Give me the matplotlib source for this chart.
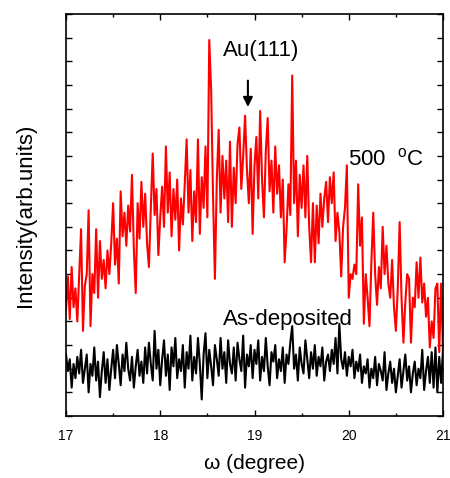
import numpy as np
import matplotlib
matplotlib.use("Agg")
import matplotlib.pyplot as plt
from matplotlib.ticker import MultipleLocator, NullFormatter

plt.rcParams['font.family'] = ['Liberation Sans', 'DejaVu Sans']
plt.rcParams['mathtext.fontset'] = 'custom'
plt.rcParams['mathtext.rm'] = 'Liberation Sans'

# omega (degree), step 0.02
omega_start = 17.0
omega_step = 0.02

red_500C = [
    4.5, 5.9, 4.1, 6.3, 4.6, 5.4, 4.0, 6.0, 7.9, 3.6,
    5.5, 6.0, 8.7, 3.8, 6.0, 5.2, 7.9, 5.0, 7.4, 5.8,
    6.6, 5.4, 7.0, 6.0, 7.3, 9.0, 6.4, 7.5, 5.6, 9.5,
    7.6, 8.6, 7.2, 8.9, 7.8, 10.2, 7.0, 5.2, 9.0, 7.5,
    9.9, 8.0, 9.4, 7.3, 6.3, 8.8, 11.1, 8.5, 9.6, 6.8,
    8.4, 9.7, 8.0, 11.4, 8.6, 10.3, 7.6, 9.6, 8.3, 10.0,
    7.0, 9.2, 8.1, 9.8, 11.7, 8.6, 10.4, 7.4, 9.5, 8.2,
    11.7, 7.7, 10.1, 8.8, 11.4, 8.4, 15.9, 13.8, 9.3, 5.8,
    10.0, 12.1, 8.6, 11.0, 9.2, 10.8, 8.2, 11.6, 8.0, 10.5,
    9.0, 11.5, 12.2, 9.6, 11.0, 12.7, 10.4, 9.0, 11.3, 7.7,
    10.6, 11.8, 9.2, 12.9, 10.0, 8.4, 11.2, 12.6, 9.5, 10.8,
    8.6, 11.4, 9.4, 10.6, 8.4, 10.0, 6.5, 7.9, 9.8, 8.5,
    14.4, 9.0, 10.8, 7.6, 10.2, 8.8, 10.6, 8.4, 11.0, 8.0,
    6.5, 9.0, 6.5, 8.9, 7.3, 9.4, 8.0, 9.2, 9.9, 8.2,
    10.1, 9.0, 10.3, 7.4, 8.6, 7.8, 5.9, 8.0, 8.8, 10.6,
    5.0, 6.0, 5.8, 6.4, 6.0, 9.8, 7.2, 8.4, 3.9, 6.0,
    5.0, 3.8, 6.5, 8.6, 6.0, 4.7, 6.3, 5.4, 8.0, 6.0,
    7.2, 5.6, 5.0, 6.6, 4.6, 3.6, 5.4, 8.2, 5.0, 3.1,
    4.8, 6.0, 5.8, 3.1, 5.0, 4.6, 6.5, 5.0, 6.7, 4.8,
    5.6, 4.2, 5.0, 2.9, 4.0, 3.3, 5.4, 5.6, 2.7, 5.6,
    2.7,
]

black_as_dep = [
    2.6, 1.9, 2.4, 1.2, 2.2, 1.6, 2.5, 1.8, 2.8, 1.4, 2.0, 2.6, 1.0, 2.2, 1.7, 2.9, 1.5, 2.3, 0.8, 1.9,
    2.7, 1.4, 2.4, 1.1, 2.0, 2.8, 1.6, 3.0, 2.2, 1.3, 2.6, 1.9, 3.1, 2.0, 1.5, 2.5, 1.2, 2.1, 2.8, 1.7,
    2.3, 1.4, 2.9, 1.8, 3.1, 2.2, 1.5, 3.6, 2.0, 2.8, 1.3, 2.4, 3.2, 1.7, 2.6, 1.1, 2.9, 2.1, 3.3, 1.6,
    2.4, 1.9, 3.0, 1.2, 2.7, 2.0, 3.4, 1.5, 2.5, 1.8, 3.3, 2.2, 0.7, 2.6, 3.5, 1.6, 2.8, 2.1, 1.3, 3.0,
    2.4, 1.7, 3.3, 2.0, 2.7, 1.4, 3.2, 2.2, 1.8, 2.9, 1.5, 3.1, 2.4, 1.9, 3.4, 1.2, 2.6, 2.1, 3.0, 1.6,
    2.8, 2.2, 3.2, 1.5, 2.5, 1.9, 3.3, 2.1, 1.3, 2.7, 2.3, 3.0, 1.6, 2.4, 1.9, 2.9, 1.4, 2.6, 2.2, 3.1,
    3.8, 2.0, 2.6, 1.5, 2.9, 2.2, 1.8, 3.2, 2.4, 1.6, 2.7, 2.0, 3.0, 1.7, 2.5, 2.1, 2.9, 1.5, 2.3, 2.6,
    1.9, 2.8, 2.2, 3.3, 1.8, 3.9, 2.4, 2.0, 2.7, 1.7, 2.5, 2.1, 2.8, 1.6, 2.3, 1.9, 2.6, 1.4, 2.1, 1.8,
    2.4, 1.2, 2.0, 1.6, 2.5, 1.3, 2.2, 1.9, 1.5, 2.7, 1.1, 1.8, 2.3, 1.4, 2.0, 1.0, 1.7, 2.4, 1.2, 1.9,
    2.6, 1.5, 2.1, 1.0, 1.8, 2.3, 1.3, 2.0, 1.6, 2.8, 1.1, 1.9, 2.5, 1.4, 2.7, 1.2, 2.9, 1.0, 2.5, 1.4, 2.8,
]

x_red = omega_start + omega_step * np.arange(len(red_500C))
x_black = omega_start + omega_step * np.arange(len(black_as_dep))

fig = plt.figure(figsize=(4.5, 4.78), dpi=100)
ax = fig.add_axes([66/450, 1 - 416/478, (443 - 66)/450, (416 - 14)/478])

ax.plot(x_red, red_500C, color='#ff0000', lw=1.5)
ax.plot(x_black, black_as_dep, color='black', lw=1.5)

ax.set_xlim(17, 21)
ax.set_ylim(0, 17)
ax.xaxis.set_major_locator(MultipleLocator(1))
ax.xaxis.set_minor_locator(MultipleLocator(0.5))
ax.yaxis.set_major_locator(MultipleLocator(1))
ax.yaxis.set_major_formatter(NullFormatter())
ax.tick_params(axis='both', which='both', direction='in', top=True, right=True, width=1.0)
ax.tick_params(axis='both', which='major', length=4, labelsize=10)
ax.tick_params(axis='x', which='minor', length=2.5)
ax.tick_params(axis='x', which='major', pad=9)
for s in ax.spines.values():
    s.set_linewidth(1.2)

ax.set_xlabel('ω (degree)', fontsize=15, labelpad=8)
ax.set_ylabel('Intensity(arb.units)', fontsize=16, labelpad=18)

ax.text(19.07, 15.45, 'Au(111)', fontsize=16, ha='center', va='center')
ax.annotate('', xy=(18.93, 12.95), xytext=(18.93, 14.3),
            arrowprops=dict(arrowstyle='-|>', color='black', lw=1.5, mutation_scale=14))
ax.text(19.99, 10.85, r'500  $^{\mathrm{o}}$C', fontsize=16, ha='left', va='center')
ax.text(18.66, 4.06, 'As-deposited', fontsize=16, ha='left', va='center')

fig.savefig('out.png', dpi=100)
